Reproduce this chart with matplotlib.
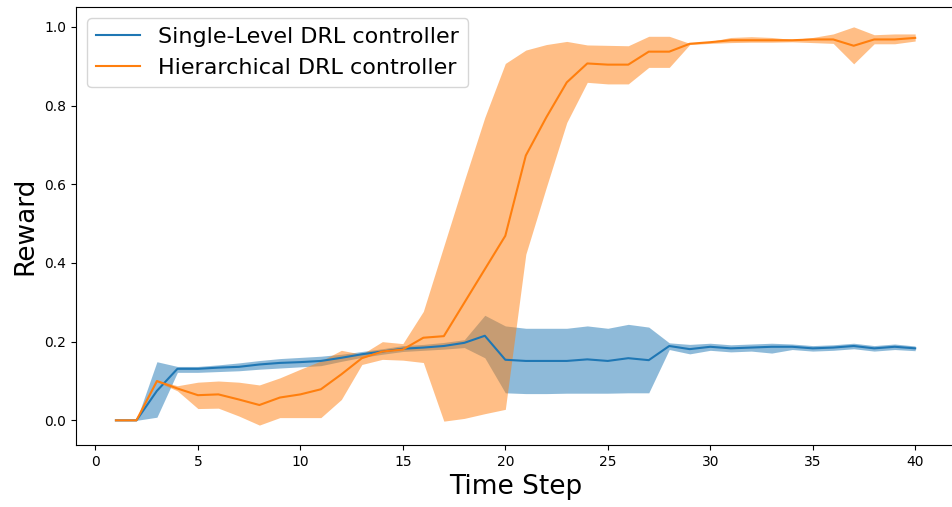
import numpy as np
import matplotlib
matplotlib.use("Agg")
import matplotlib.pyplot as plt

# Time steps
steps = np.arange(1, 41)

# Single-level controller: mean reward and band limits
single_mean = [0.000, 0.000, 0.075, 0.131, 0.131, 0.134, 0.136, 0.142, 0.146, 0.148,
               0.151, 0.159, 0.168, 0.175, 0.182, 0.185, 0.189, 0.197, 0.215, 0.154,
               0.151, 0.151, 0.151, 0.155, 0.151, 0.158, 0.153, 0.189, 0.181, 0.187,
               0.183, 0.185, 0.187, 0.187, 0.183, 0.185, 0.189, 0.183, 0.187, 0.183]
single_upper = [0.000, 0.000, 0.149, 0.137, 0.137, 0.141, 0.146, 0.152, 0.157, 0.160,
                0.163, 0.168, 0.175, 0.182, 0.190, 0.193, 0.198, 0.205, 0.267, 0.240,
                0.234, 0.234, 0.234, 0.240, 0.234, 0.244, 0.237, 0.197, 0.193, 0.196,
                0.192, 0.194, 0.196, 0.194, 0.190, 0.192, 0.196, 0.190, 0.194, 0.189]
single_lower = [0.000, 0.000, 0.008, 0.122, 0.122, 0.124, 0.126, 0.130, 0.133, 0.136,
                0.139, 0.150, 0.160, 0.168, 0.175, 0.178, 0.181, 0.185, 0.159, 0.070,
                0.068, 0.068, 0.069, 0.069, 0.069, 0.070, 0.070, 0.180, 0.169, 0.178,
                0.174, 0.176, 0.171, 0.180, 0.176, 0.178, 0.182, 0.176, 0.180, 0.177]

# Hierarchical controller: mean reward and band limits
hier_mean = [0.000, 0.000, 0.100, 0.081, 0.064, 0.066, 0.053, 0.039, 0.058, 0.066,
             0.079, 0.117, 0.158, 0.175, 0.180, 0.210, 0.214, 0.299, 0.384, 0.469,
             0.673, 0.770, 0.859, 0.907, 0.904, 0.904, 0.937, 0.937, 0.957, 0.961,
             0.966, 0.966, 0.966, 0.966, 0.968, 0.968, 0.952, 0.968, 0.968, 0.972]
hier_upper = [0.000, 0.000, 0.102, 0.088, 0.097, 0.100, 0.097, 0.090, 0.108, 0.130,
              0.151, 0.178, 0.168, 0.200, 0.195, 0.277, 0.443, 0.609, 0.770, 0.907,
              0.941, 0.955, 0.963, 0.954, 0.953, 0.952, 0.976, 0.976, 0.958, 0.963,
              0.973, 0.975, 0.973, 0.968, 0.973, 0.982, 1.000, 0.980, 0.982, 0.982]
hier_lower = [0.000, 0.000, 0.098, 0.075, 0.030, 0.031, 0.011, -0.012, 0.007, 0.007,
              0.007, 0.053, 0.142, 0.155, 0.153, 0.147, -0.002, 0.005, 0.017, 0.028,
              0.422, 0.592, 0.757, 0.859, 0.855, 0.855, 0.897, 0.897, 0.955, 0.958,
              0.960, 0.961, 0.961, 0.962, 0.960, 0.958, 0.906, 0.957, 0.957, 0.964]

fig = plt.figure(figsize=(9.52, 5.07), dpi=100)
ax = fig.add_axes([0.0798, 0.1223, 0.9235, 0.864])

ax.plot(steps, single_mean, color="tab:blue", label="Single-Level DRL controller")
ax.fill_between(steps, single_lower, single_upper, color="tab:blue", alpha=0.5, linewidth=0)
ax.plot(steps, hier_mean, color="tab:orange", label="Hierarchical DRL controller")
ax.fill_between(steps, hier_lower, hier_upper, color="tab:orange", alpha=0.5, linewidth=0)

ax.set_xlabel("Time Step", fontsize=19)
ax.set_ylabel("Reward", fontsize=19)
ax.legend(loc="upper left", fontsize=16)

fig.savefig("out.png", dpi=100)
